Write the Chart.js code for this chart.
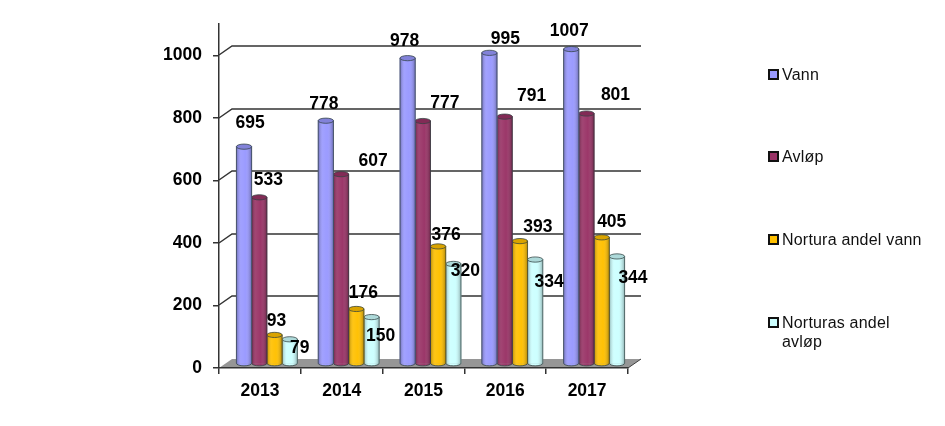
<!DOCTYPE html>
<html>
<head>
<meta charset="utf-8">
<style>
  html, body { margin: 0; padding: 0; background: #fff; }
  #wrap { position: relative; width: 945px; height: 426px; overflow: hidden; }
  #legend { position: absolute; left: 0; top: 0; font: 16px "Liberation Sans", Arial, sans-serif; color: #111; letter-spacing: 0.2px; }
  .item { position: absolute; left: 768px; width: 170px; line-height: 19px; padding-left: 14px; box-sizing: border-box; }
  .box { position: absolute; left: 0; top: 4px; width: 11px; height: 11px; border: 2px solid #111; box-sizing: border-box; }
</style>
</head>
<body>
<div id="wrap">
  <canvas id="chart" width="945" height="426"></canvas>
  <div id="legend"></div>
</div>
<script src="https://cdn.jsdelivr.net/npm/chart.js@4"></script>
<script>
const years = ['2013', '2014', '2015', '2016', '2017'];
const vann = [695, 778, 978, 995, 1007];
const avlop = [533, 607, 777, 791, 801];
const norturaVann = [93, 176, 376, 393, 405];
const norturaAvlop = [79, 150, 320, 334, 344];
const yTicks = [0, 200, 400, 600, 800, 1000];

const seriesNames = ['Vann', 'Avløp', 'Nortura andel vann', ['Norturas andel', 'avløp']];
const seriesValues = [vann, avlop, norturaVann, norturaAvlop];
const seriesColors = ['#9999ff', '#993366', '#ffc000', '#ccffff'];

// where each value label sits relative to the top of its bar, one row per series
const labelNudge = [
    [[6, -23], [-2, -17], [-3, -17], [16, -14], [-2, -18]],
    [[9, -17], [32, -13], [22, -18], [27, -20], [29, -18]],
    [[2, -14], [7, -16], [8, -11], [18, -14], [10, -15]],
    [[10, 9], [9, 19], [12, 7], [14, 23], [16, 22]]
];
const legendRows = [65, 147, 230, 313];

const FONT = '"Liberation Sans", Arial, sans-serif';
const DEPTH_X = 13, DEPTH_Y = 9;     // back wall offset from the front axes
const BAR_DX = 7, BAR_DY = -4;       // bars stand in the middle of the floor
const CAP = 2.6;

// floor and back wall lines, under everything else
const wallPlugin = {
    id: 'wall',
    beforeDraw(chart) {
        const ctx = chart.ctx;
        const y = chart.scales.y;
        const a = chart.chartArea;
        const y0 = y.getPixelForValue(0);
        ctx.save();
        ctx.fillStyle = '#969696';
        ctx.strokeStyle = '#404040';
        ctx.lineWidth = 1;
        ctx.beginPath();
        ctx.moveTo(a.left, y0);
        ctx.lineTo(a.left + DEPTH_X, y0 - DEPTH_Y);
        ctx.lineTo(a.right + DEPTH_X, y0 - DEPTH_Y);
        ctx.lineTo(a.right, y0);
        ctx.closePath();
        ctx.fill();
        ctx.beginPath();
        ctx.moveTo(a.right, y0);
        ctx.lineTo(a.right + DEPTH_X, y0 - DEPTH_Y);
        ctx.stroke();
        ctx.lineWidth = 1.5;
        ctx.strokeStyle = '#333';
        yTicks.slice(1).forEach(v => {
            const py = Math.round(y.getPixelForValue(v));
            ctx.beginPath();
            ctx.moveTo(a.left, py);
            ctx.lineTo(a.left + DEPTH_X, py - DEPTH_Y);
            ctx.lineTo(a.right + DEPTH_X, py - DEPTH_Y);
            ctx.stroke();
        });
        ctx.restore();
    }
};

function shade(ctx, x, w) {
    const g = ctx.createLinearGradient(x - w / 2, 0, x + w / 2, 0);
    g.addColorStop(0, 'rgba(0,0,0,0.28)');
    g.addColorStop(0.3, 'rgba(255,255,255,0.08)');
    g.addColorStop(0.6, 'rgba(255,255,255,0.02)');
    g.addColorStop(1, 'rgba(0,0,0,0.30)');
    return g;
}

// turns the flat bars into cylinders, then writes the value labels
const cylinderPlugin = {
    id: 'cylinder',
    beforeDatasetsDraw(chart) {
        chart.ctx.save();
        chart.ctx.translate(BAR_DX, BAR_DY);
    },
    afterDatasetDraw(chart, args) {
        const ctx = chart.ctx;
        const color = seriesColors[args.index];
        args.meta.data.forEach(el => {
            const w = el.width, x = el.x, top = el.y, base = el.base;
            const r = w / 2;
            ctx.fillStyle = color;
            ctx.beginPath();
            ctx.ellipse(x, base, r, CAP, 0, 0, Math.PI);
            ctx.fill();
            ctx.fillStyle = shade(ctx, x, w);
            ctx.beginPath();
            ctx.moveTo(x - r, top);
            ctx.lineTo(x - r, base);
            ctx.ellipse(x, base, r, CAP, 0, Math.PI, 0, true);
            ctx.lineTo(x + r, top);
            ctx.closePath();
            ctx.fill();
            ctx.strokeStyle = 'rgba(50,65,65,0.75)';
            ctx.lineWidth = 1;
            ctx.stroke();
            // top cap
            ctx.fillStyle = color;
            ctx.beginPath();
            ctx.ellipse(x, top, r, CAP, 0, 0, Math.PI * 2);
            ctx.fill();
            ctx.fillStyle = 'rgba(0,0,0,0.15)';
            ctx.fill();
            ctx.stroke();
        });
    },
    afterDatasetsDraw(chart) {
        const ctx = chart.ctx;
        ctx.restore();
        ctx.save();
        ctx.font = 'bold 17.5px ' + FONT;
        ctx.fillStyle = '#000';
        ctx.textAlign = 'center';
        ctx.textBaseline = 'middle';
        seriesValues.forEach((vals, s) => {
            const meta = chart.getDatasetMeta(s);
            vals.forEach((v, i) => {
                const el = meta.data[i];
                const nudge = labelNudge[s][i];
                ctx.fillText(String(v), el.x + BAR_DX + nudge[0], el.y + BAR_DY + nudge[1]);
            });
        });
        ctx.restore();
    }
};

new Chart(document.getElementById('chart').getContext('2d'), {
    type: 'bar',
    data: {
        labels: years,
        datasets: seriesValues.map((vals, s) => ({
            label: String(seriesNames[s]),
            data: vals,
            backgroundColor: seriesColors[s],
            borderWidth: 0,
            barThickness: 15.25,
            clip: false
        }))
    },
    plugins: [wallPlugin, cylinderPlugin],
    options: {
        responsive: false,
        animation: false,
        events: [],
        layout: { padding: { left: 0, top: 24, right: 317, bottom: 0 } },
        plugins: { legend: { display: false }, tooltip: { enabled: false } },
        scales: {
            x: {
                afterFit: s => { s.height = 58; },
                grid: { drawOnChartArea: false, drawTicks: true, tickLength: 6, color: '#333', lineWidth: 1.5 },
                border: { color: '#333', width: 1.5 },
                ticks: { color: '#000', padding: 7, font: { family: FONT, size: 17.5, weight: 'bold' } }
            },
            y: {
                min: 0,
                max: 1100,
                afterFit: s => { s.width = 219; },
                afterBuildTicks: s => { s.ticks = yTicks.map(v => ({ value: v })); },
                grid: { drawOnChartArea: false, drawTicks: true, tickLength: 6, color: '#333', lineWidth: 1.5 },
                border: { color: '#333', width: 1.5 },
                ticks: {
                    color: '#000',
                    padding: 11,
                    font: { family: FONT, size: 17.5, weight: 'bold' },
                    callback: v => String(v)
                }
            }
        }
    }
});

// the legend column sits far from the plot, so it is built by hand
const legend = document.getElementById('legend');
seriesNames.forEach((name, s) => {
    const item = document.createElement('div');
    item.className = 'item';
    item.style.top = legendRows[s] + 'px';
    const box = document.createElement('span');
    box.className = 'box';
    box.style.background = seriesColors[s];
    item.appendChild(box);
    item.appendChild(document.createTextNode(Array.isArray(name) ? name[0] : name));
    if (Array.isArray(name)) {
        item.appendChild(document.createElement('br'));
        item.appendChild(document.createTextNode(name[1]));
    }
    legend.appendChild(item);
});
</script>
</body>
</html>
